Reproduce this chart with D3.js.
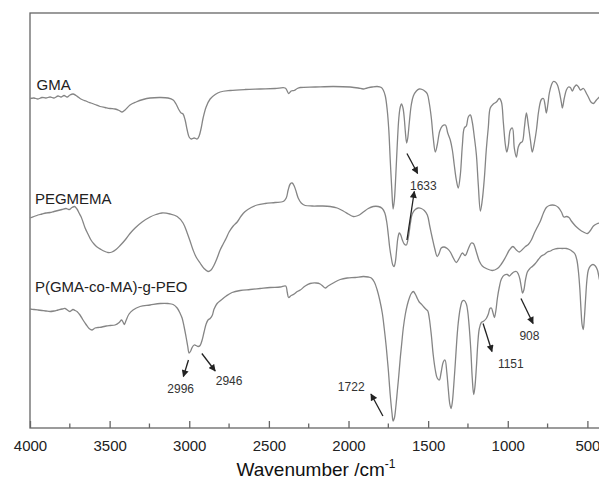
<!DOCTYPE html>
<html>
<head>
<meta charset="utf-8">
<script src="https://cdn.jsdelivr.net/npm/d3@7"></script>
<style>
  html, body { margin: 0; padding: 0; background: #fff; }
  svg { display: block; font-family: "Liberation Sans", Arial, sans-serif; }
</style>
</head>
<body>
<svg id="chart" width="599" height="482"></svg>
<script>
// FTIR spectra: wavenumber (cm-1) vs. offset transmittance (a.u.)
const gmaWn = [4000,3975,3950,3925,3900,3874,3849,3824,3805,3786,3767,3749,3730,3711,3698,3686,3667,3648,3636,3617,3592,3560,3529,3497,3466,3440,3422,3403,3372,3334,3290,3246,3183,3133,3101,3083,3064,3051,3039,3026,3013,3001,2988,2969,2950,2938,2925,2913,2894,2869,2837,2806,2743,2649,2555,2461,2398,2385,2376,2360,2341,2322,2303,2209,2096,1989,1939,1907,1882,1851,1820,1794,1782,1769,1757,1747,1738,1728,1720,1712,1703,1694,1684,1675,1667,1658,1650,1643,1635,1628,1618,1606,1593,1574,1556,1537,1518,1505,1493,1480,1468,1455,1443,1427,1411,1392,1377,1361,1348,1336,1323,1311,1298,1285,1273,1260,1248,1235,1223,1210,1197,1185,1172,1160,1147,1135,1122,1110,1091,1072,1053,1040,1028,1015,1006,996,984,971,959,946,934,921,908,896,883,871,858,846,833,820,805,789,776,767,758,748,739,726,714,701,688,676,663,657,645,632,619,607,594,582,569,556,544,525,506,494,478,462,443,425,400];
const gmaT = [65.9,66.0,65.8,66.1,66.0,66.2,66.0,66.4,66.2,66.5,66.2,66.6,66.8,66.5,66.2,65.9,65.6,65.4,65.2,65.0,64.7,64.3,64.1,63.9,63.8,63.5,63.2,63.6,64.6,65.2,65.7,66.0,66.1,66.0,65.6,64.8,63.6,63.0,62.8,61.6,59.6,58.2,57.8,58.0,57.8,58.4,60.0,62.0,64.2,65.8,66.7,67.2,67.5,67.7,67.8,67.9,68.0,67.4,66.9,67.4,67.5,67.9,68.1,68.2,68.3,68.2,68.0,67.8,68.0,68.2,68.3,68.1,67.6,66.4,63.6,59.6,53.6,47.6,43.8,45.6,50.6,56.6,62.0,64.2,64.8,64.0,62.0,59.2,57.0,58.0,61.2,64.6,66.4,67.4,67.8,67.7,67.3,66.8,65.0,62.0,58.0,55.2,56.6,59.4,60.4,60.6,59.0,57.6,55.6,52.6,49.6,48.0,50.6,56.6,60.0,60.4,62.2,62.6,61.2,58.2,54.6,48.6,43.4,45.6,50.0,55.6,60.2,64.0,64.8,65.2,65.9,65.2,61.2,56.6,55.2,56.6,59.6,60.0,56.0,54.2,56.2,57.0,57.3,60.0,63.0,60.6,57.6,55.2,57.0,59.6,63.6,65.7,65.9,64.8,63.0,64.8,67.0,68.6,69.3,69.2,68.6,67.2,65.0,64.0,66.0,67.6,68.2,68.1,67.4,68.2,68.6,68.2,67.6,67.9,66.9,66.2,65.2,64.9,65.6,66.2,66.8];

const pegWn = [4000,3975,3950,3925,3900,3874,3849,3824,3799,3774,3755,3736,3720,3705,3692,3680,3667,3654,3636,3617,3598,3579,3554,3529,3510,3485,3460,3434,3403,3372,3340,3296,3246,3209,3171,3120,3076,3039,3013,2995,2976,2957,2932,2907,2882,2863,2844,2825,2806,2787,2769,2750,2724,2699,2674,2649,2611,2574,2523,2461,2410,2391,2379,2366,2354,2341,2328,2316,2297,2272,2228,2165,2115,2071,2033,2002,1970,1939,1907,1876,1845,1813,1788,1772,1760,1750,1741,1731,1722,1714,1706,1698,1690,1681,1672,1662,1650,1637,1625,1612,1600,1581,1562,1543,1524,1505,1490,1474,1458,1443,1430,1418,1399,1380,1361,1342,1323,1304,1285,1267,1248,1229,1216,1197,1179,1160,1135,1097,1065,1040,1015,990,968,946,927,908,889,871,852,833,814,795,776,758,739,720,701,682,663,648,632,616,601,575,550,525,500,481,462,443,425,400];
const pegT = [42.0,42.3,42.6,42.8,43.0,43.1,43.3,43.5,43.7,43.9,43.7,44.1,44.3,43.8,43.0,42.3,41.2,40.0,38.8,37.6,36.8,36.2,35.7,35.3,35.1,35.2,35.7,36.5,37.6,38.9,40.0,41.2,42.2,42.7,43.0,42.8,42.3,41.0,39.0,37.4,35.6,34.2,33.0,31.9,31.3,31.6,32.6,34.0,35.6,36.8,37.9,39.2,40.4,41.2,42.4,43.3,44.1,44.6,44.9,45.1,45.3,46.0,47.6,48.8,49.0,48.4,47.2,46.0,45.0,44.5,44.4,44.4,44.3,44.0,43.4,42.8,42.3,42.5,43.2,43.9,44.3,44.3,43.9,43.0,41.2,38.6,36.0,34.0,32.6,32.3,33.2,35.6,38.0,39.0,38.6,37.6,36.8,36.6,38.0,40.8,42.8,43.7,44.0,43.9,43.5,42.6,40.4,38.0,35.8,34.3,35.0,36.0,36.2,35.9,35.2,34.0,33.1,34.0,35.0,34.5,35.8,37.0,36.9,35.2,33.4,32.4,31.9,31.5,31.9,32.8,34.1,35.6,36.3,35.6,35.2,35.7,36.3,36.7,37.6,39.0,40.2,41.4,43.0,44.1,44.5,44.6,44.5,44.1,43.2,42.2,42.3,42.1,41.4,40.4,39.7,39.2,38.9,39.5,40.4,40.8,41.0,40.9];

const peoWn = [4000,3975,3950,3925,3900,3874,3849,3824,3799,3780,3761,3749,3730,3717,3705,3686,3667,3648,3629,3610,3592,3573,3548,3522,3497,3466,3440,3425,3416,3407,3397,3378,3353,3309,3246,3183,3133,3101,3076,3057,3045,3032,3020,3010,3001,2991,2982,2969,2957,2944,2932,2919,2907,2894,2882,2869,2856,2844,2825,2800,2768,2731,2680,2618,2555,2492,2429,2394,2385,2376,2360,2341,2322,2303,2272,2241,2203,2178,2159,2146,2128,2096,2052,2008,1958,1907,1876,1857,1838,1820,1804,1788,1776,1763,1750,1738,1727,1720,1712,1703,1694,1684,1675,1665,1656,1643,1631,1618,1606,1593,1581,1568,1556,1543,1527,1512,1502,1493,1480,1468,1455,1443,1430,1418,1405,1394,1383,1373,1364,1356,1348,1339,1329,1320,1311,1298,1285,1273,1260,1251,1242,1232,1223,1214,1207,1197,1188,1179,1166,1150,1135,1122,1112,1103,1094,1084,1075,1065,1053,1040,1021,1003,990,977,962,946,934,924,915,907,899,889,877,861,846,827,808,789,770,751,732,714,688,657,632,613,594,578,566,556,547,540,533,526,519,511,503,494,481,465,450,437,425,412,400];
const peoT = [23.8,23.7,23.6,23.5,23.4,23.3,23.4,23.6,23.8,23.9,23.5,23.3,23.7,23.5,23.3,22.6,21.6,20.7,19.9,19.6,20.0,20.1,20.2,20.4,20.5,20.6,21.1,21.6,21.2,20.7,21.5,22.8,23.6,24.3,24.6,24.9,24.9,24.7,24.0,22.9,22.0,20.2,18.2,16.4,15.0,15.4,16.1,16.6,16.5,16.3,16.5,17.6,19.2,20.8,21.6,21.9,22.5,23.8,24.9,25.6,26.4,27.1,27.5,27.7,27.9,28.1,28.2,28.4,27.2,26.1,26.5,26.8,27.3,27.6,28.4,28.9,29.0,28.8,28.3,28.0,28.4,29.0,29.7,30.0,30.1,30.3,30.2,30.0,29.2,27.6,25.6,23.0,20.0,16.2,11.6,6.6,3.0,1.4,2.0,4.2,7.2,10.6,14.0,17.2,20.0,22.8,24.6,26.0,26.9,27.3,26.8,25.9,25.2,24.8,24.2,23.7,23.4,22.0,18.6,14.6,11.6,10.0,9.6,11.2,13.2,13.6,11.2,7.6,4.8,3.9,5.2,8.6,13.2,17.6,21.0,24.0,25.4,25.5,24.8,23.2,20.2,15.6,10.0,6.7,8.0,12.2,17.0,19.8,21.1,21.4,21.9,22.8,23.9,24.0,23.2,22.1,23.4,26.0,28.2,29.8,30.6,30.7,30.4,30.8,31.2,31.3,30.8,29.8,28.2,27.0,27.6,29.6,31.2,31.9,32.3,32.9,33.7,34.4,34.7,35.2,35.4,35.7,35.9,35.9,35.9,35.7,35.3,34.8,33.6,31.2,27.6,23.6,20.6,19.7,22.0,26.0,29.6,31.6,32.4,32.7,32.4,31.6,29.8,28.2,27.0];

const seriesNames = ["GMA", "PEGMEMA", "P(GMA-co-MA)-g-PEO"];
// series name anchors: [wavenumber, transmittance]
const nameAnchors = [[3959, 67.6], [3969, 44.8], [3969, 27.2]];

const xTicks = [4000, 3500, 3000, 2500, 2000, 1500, 1000, 500];
const xMinorTicks = [3750, 3250, 2750, 2250, 1750, 1250, 750];

// peak annotations: label, label anchor [wn, T], arrow tail [wn, T], arrow tip [wn, T]
const peakLabels = ["1633", "2996", "2946", "1722", "1151", "908"];
const peakLabelPos = [[1530, 47.6], [3054, 7.0], [2750, 8.6], [1983, 7.4], [981, 12.0], [864, 17.6]];
const arrowTails = [[1633, 54.9], [1633, 37.6], [3005, 13.6], [2921, 14.9], [1784, 2.4], [1155, 20.9], [917, 25.9]];
const arrowTips  = [[1566, 50.9], [1587, 47.3], [3037, 10.3], [2837, 11.4], [1859, 6.8], [1099, 15.3], [841, 20.9]];

const svg = d3.select("#chart");
const margin = { left: 30, top: 13, bottom: 428 };

const x = d3.scaleLinear().domain([4000, 500]).range([margin.left, 587.4]);
const y = d3.scaleLinear().domain([0, 83]).range([margin.bottom, margin.top]);

// frame (right edge runs beyond the visible area)
svg.append("rect")
  .attr("x", x(4000)).attr("y", y(83))
  .attr("width", x(400) - x(4000)).attr("height", y(0) - y(83))
  .attr("fill", "none").attr("stroke", "#666").attr("stroke-width", 1.3);

// bottom axis with inward ticks
const axis = d3.axisBottom(x).tickValues(xTicks).tickSize(-7).tickPadding(12).tickFormat(d3.format("d"));
const gx = svg.append("g").attr("transform", `translate(0,${y(0)})`).call(axis);
gx.select(".domain").remove();
gx.selectAll(".tick line").attr("stroke", "#666").attr("stroke-width", 1.3);
gx.selectAll(".tick text").attr("fill", "#222").style("font-size", "15px")
  .style("font-family", "'Liberation Sans', Arial, sans-serif");

svg.append("g").selectAll("line").data(xMinorTicks).join("line")
  .attr("x1", d => x(d)).attr("x2", d => x(d))
  .attr("y1", y(0)).attr("y2", y(0) - 4.5)
  .attr("stroke", "#666").attr("stroke-width", 1.3);

// axis title
const title = svg.append("text")
  .attr("x", 316).attr("y", 476)
  .attr("text-anchor", "middle").attr("fill", "#111")
  .style("font-size", "19px");
title.append("tspan").text("Wavenumber /cm");
title.append("tspan").attr("dy", -8).style("font-size", "12px").text("-1");

// spectra
const line = d3.line().x(d => x(d[0])).y(d => y(d[1])).curve(d3.curveCatmullRom.alpha(0.5));
const spectra = [
  d3.zip(gmaWn, gmaT),
  d3.zip(pegWn, pegT),
  d3.zip(peoWn, peoT)
];
svg.append("g").selectAll("path").data(spectra).join("path")
  .attr("d", line)
  .attr("fill", "none").attr("stroke", "#858585").attr("stroke-width", 1.3)
  .attr("stroke-linejoin", "round");

// series names
svg.append("g").selectAll("text").data(seriesNames).join("text")
  .attr("x", (d, i) => x(nameAnchors[i][0]))
  .attr("y", (d, i) => y(nameAnchors[i][1]))
  .attr("fill", "#222").style("font-size", "15px")
  .text(d => d);

// arrows
svg.append("defs").append("marker")
  .attr("id", "head").attr("viewBox", "0 0 10 10")
  .attr("refX", 9).attr("refY", 5)
  .attr("markerWidth", 8).attr("markerHeight", 7)
  .attr("markerUnits", "userSpaceOnUse")
  .attr("orient", "auto")
  .append("path").attr("d", "M0,0 L10,5 L0,10 Z").attr("fill", "#222");

svg.append("g").selectAll("line").data(arrowTails).join("line")
  .attr("x1", d => x(d[0])).attr("y1", d => y(d[1]))
  .attr("x2", (d, i) => x(arrowTips[i][0])).attr("y2", (d, i) => y(arrowTips[i][1]))
  .attr("stroke", "#222").attr("stroke-width", 1.3)
  .attr("marker-end", "url(#head)");

// peak labels
svg.append("g").selectAll("text").data(peakLabels).join("text")
  .attr("x", (d, i) => x(peakLabelPos[i][0]))
  .attr("y", (d, i) => y(peakLabelPos[i][1]))
  .attr("text-anchor", "middle")
  .attr("fill", "#333").style("font-size", "12px")
  .text(d => d);
</script>
</body>
</html>
